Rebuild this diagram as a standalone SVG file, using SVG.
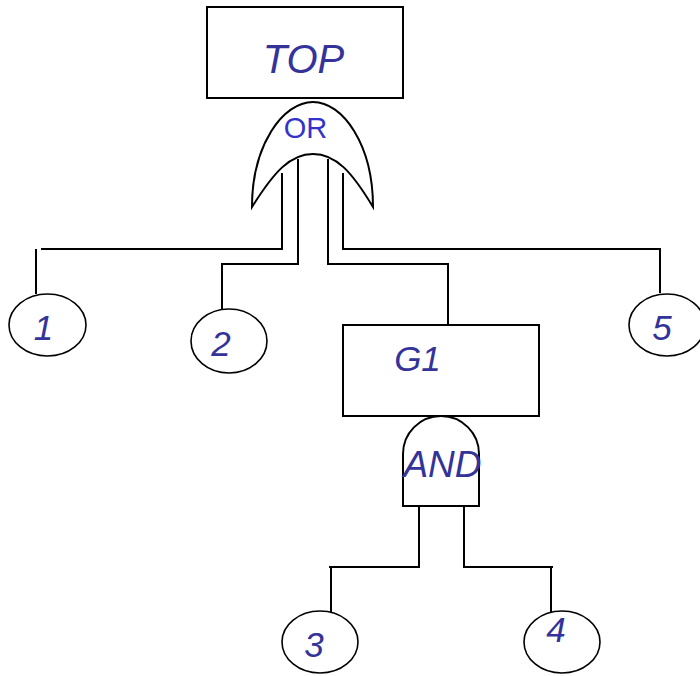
<svg xmlns="http://www.w3.org/2000/svg" width="700" height="676" viewBox="0 0 700 676">
<style>
.box{fill:#fff;stroke:#000;stroke-width:2}
.ev{fill:#fff;stroke:#000;stroke-width:1.6}
.gate{fill:#fff;stroke:#000;stroke-width:2}
.ln{fill:none;stroke:#000;stroke-width:2}
.t{font-family:"Liberation Sans",Arial,sans-serif;font-style:italic;fill:#333399;text-anchor:middle}
.g{font-family:"Liberation Sans",Arial,sans-serif;fill:#3333cc;text-anchor:middle}
</style>
<rect width="700" height="676" fill="#fff"/>
<g id="connectors">
<polyline class="ln" points="282,173 282,249 41,249"/>
<polyline class="ln" points="36,249 36,294"/>
<polyline class="ln" points="298,159 298,264 222,264 222,309"/>
<polyline class="ln" points="328,159 328,264 448,264 448,325"/>
<polyline class="ln" points="343,173 343,249 660,249 660,293"/>
<polyline class="ln" points="419,506 419,567 329,567"/>
<polyline class="ln" points="331,567 331,612"/>
<polyline class="ln" points="464,506 464,567 553,567"/>
<polyline class="ln" points="551,567 551,612"/>
</g>
<g id="TOP">
<rect class="box" x="207" y="7" width="196" height="91"/>
<text class="t" x="303.5" y="73" font-size="40">TOP</text>
</g>
<g id="OR">
<path class="gate" d="M252,207 C252,145 283,102 313,102 C343,102 373,145 373,207 C352,172 336,154 313,154 C290,154 274,172 252,207 Z"/>
<text class="g" x="305.5" y="138" font-size="29">OR</text>
</g>
<g id="G1">
<rect class="box" x="343" y="325" width="196" height="91"/>
<text class="t" x="417.5" y="371" font-size="35">G1</text>
</g>
<g id="AND">
<path class="gate" d="M403,506 L403,454 A38,38 0 0 1 479,454 L479,506 Z"/>
<text class="t" x="442.5" y="477" font-size="37">AND</text>
</g>
<g id="E1">
<ellipse class="ev" cx="47.5" cy="325" rx="38.5" ry="31"/>
<text class="t" x="43.5" y="340" font-size="35">1</text>
</g>
<g id="E2">
<ellipse class="ev" cx="229" cy="341" rx="38" ry="32"/>
<text class="t" x="221" y="356" font-size="35">2</text>
</g>
<g id="E5">
<ellipse class="ev" cx="667" cy="325" rx="38" ry="31"/>
<text class="t" x="662" y="340" font-size="35">5</text>
</g>
<g id="E3">
<ellipse class="ev" cx="320" cy="642" rx="38" ry="31"/>
<text class="t" x="314" y="657" font-size="35">3</text>
</g>
<g id="E4">
<ellipse class="ev" cx="562" cy="642" rx="38" ry="31"/>
<text class="t" x="556" y="642" font-size="35">4</text>
</g>
</svg>
